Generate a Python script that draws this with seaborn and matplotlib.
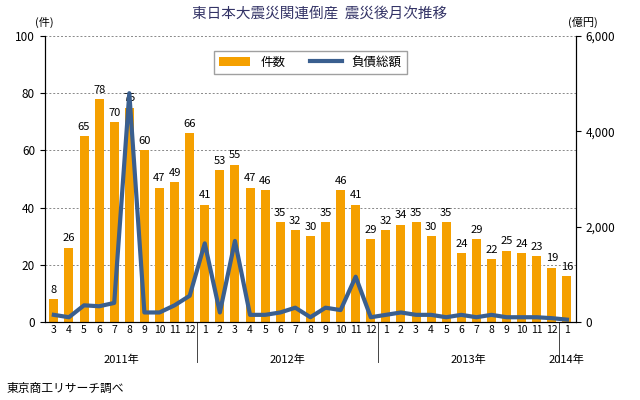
import matplotlib
matplotlib.use("Agg")
import matplotlib.pyplot as plt
import seaborn as sns
import pandas as pd
import numpy as np

plt.rcParams["font.family"] = ["Noto Sans CJK JP", "DejaVu Sans"]

months = [3,4,5,6,7,8,9,10,11,12] + list(range(1,13)) + list(range(1,13)) + [1]
counts = [8,26,65,78,70,75,60,47,49,66,
          41,53,55,47,46,35,32,30,35,46,41,29,
          32,34,35,30,35,24,29,22,25,24,23,19,
          16]
debt = [150,100,350,330,400,4800,200,200,350,550,
        1650,200,1700,150,150,200,300,100,300,250,950,100,
        150,200,150,150,100,150,100,150,100,100,100,80,
        50]
years = ["2011年", "2012年", "2013年", "2014年"]

df = pd.DataFrame({"i": range(len(counts)), "件数": counts, "負債総額": debt})

fig = plt.figure(figsize=(6.4, 4.0), dpi=100)
ax = fig.add_axes([0.07, 0.195, 0.83, 0.715])
sns.barplot(data=df, x="i", y="件数", color="#f5a000", width=0.6, ax=ax, label="件数", saturation=1)
ax2 = ax.twinx()
sns.lineplot(data=df, x="i", y="負債総額", color="#3a5f8f", lw=3, ax=ax2, label="負債総額", legend=False)

ax.set_ylim(0, 100); ax2.set_ylim(0, 6000)
ax.set_xlim(-0.6, len(counts) - 0.4)
ax.set_yticks(range(0, 101, 20)); ax2.set_yticks(range(0, 6001, 2000))
ax2.set_yticklabels([f"{v:,}" for v in range(0, 6001, 2000)])
ax.set_xticks(range(len(counts))); ax.set_xticklabels([str(m) for m in months], fontsize=7.5)
ax.tick_params(axis="x", length=0, pad=2)
ax.tick_params(axis="y", labelsize=8.5); ax2.tick_params(axis="y", labelsize=8.5)
ax.set_xlabel(""); ax.set_ylabel(""); ax2.set_ylabel("")
ax.grid(axis="y", color="#888888", ls=(0, (2, 2)), lw=0.7)
ax.set_axisbelow(True)
for s in ["top"]:
    ax.spines[s].set_visible(False); ax2.spines[s].set_visible(False)

for i, c in enumerate(counts):
    ax.text(i, c + 1.5, str(c), ha="center", va="bottom", fontsize=8)

# year labels
starts = [0, 10, 22, 34]
ends = [10, 22, 34, 35]
for y, s, e in zip(years, starts, ends):
    ax.text((s + e - 1) / 2, -0.115, y, transform=ax.get_xaxis_transform(), ha="center", va="top", fontsize=8)
for b in [10, 22, 34]:
    ax.plot([b - 0.5, b - 0.5], [0, -0.14], transform=ax.get_xaxis_transform(), color="#444444", lw=0.7, clip_on=False)

h1, l1 = ax.get_legend_handles_labels()
h2, l2 = ax2.get_legend_handles_labels()
ax.legend(h1 + h2, l1 + l2, loc="upper center", bbox_to_anchor=(0.5, 0.97), ncol=2, fontsize=9,
          frameon=True, edgecolor="#888888", fancybox=False, handlelength=2.5)

fig.text(0.5, 0.965, "東日本大震災関連倒産  震災後月次推移", ha="center", va="center", fontsize=10.5, color="#333366")
fig.text(0.07, 0.935, "(件)", ha="center", fontsize=8)
fig.text(0.91, 0.935, "(億円)", ha="center", fontsize=8)
fig.text(0.01, 0.02, "東京商工リサーチ調べ", fontsize=8.5)

fig.savefig("out.png", dpi=100)
